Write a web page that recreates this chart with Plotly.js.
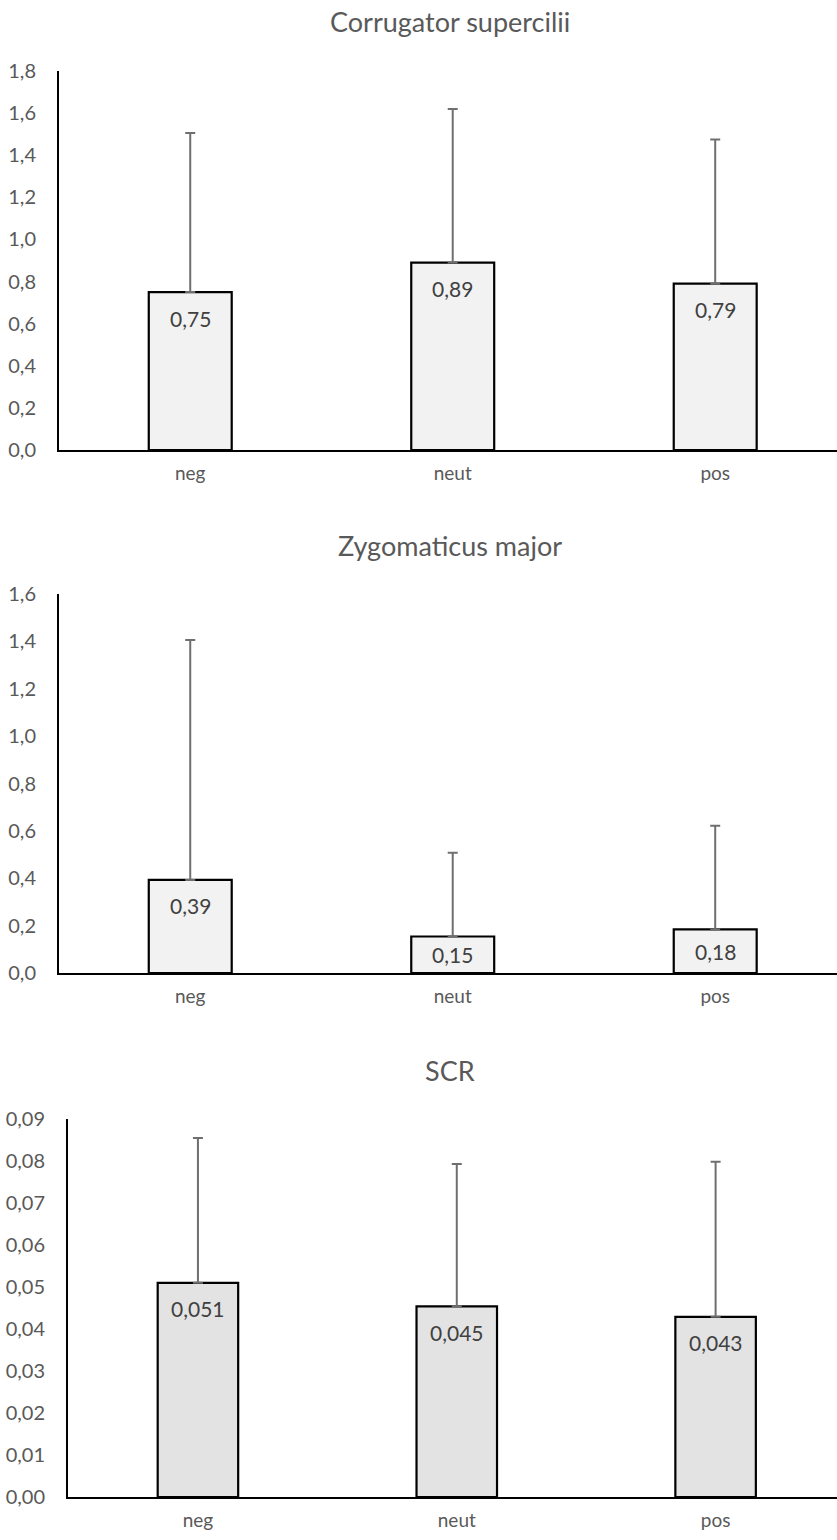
<!DOCTYPE html>
<html>
<head>
<meta charset="utf-8">
<script src="https://cdn.plot.ly/plotly-3.0.1.min.js"></script>
<style>
  html, body { margin: 0; padding: 0; background: #ffffff; }
  #chart { width: 837px; height: 1540px; }
</style>
</head>
<body>
<div id="chart"></div>
<script>
// ---- data ----
const categories = ['neg', 'neut', 'pos'];

const corrTitle = 'Corrugator supercilii';
const corrValues = [0.75, 0.89, 0.79];
const corrErrors = [0.755, 0.73, 0.685];

const zygoTitle = 'Zygomaticus major';
const zygoValues = [0.393, 0.154, 0.184];
const zygoErrors = [1.013, 0.354, 0.438];

const scrTitle = 'SCR';
const scrValues = [0.051, 0.0454, 0.0429];
const scrErrors = [0.0345, 0.0339, 0.0369];

// ---- layout constants ----
const W = 837, H = 1540;
const fontFam = 'Lato, "Open Sans", sans-serif';
const tickColor = '#595959';
const labelColor = '#404040';

const panels = [
  { title: corrTitle, values: corrValues, errors: corrErrors, fill: '#f2f2f2',
    top: 71, bottom: 450, left: 59, yMax: 1.8, dtick: 0.2, fmt: '.1f', dec: 2,
    xr: [-0.5, 2.464], barW: 0.316, titleY: 22 },
  { title: zygoTitle, values: zygoValues, errors: zygoErrors, fill: '#f2f2f2',
    top: 594, bottom: 973, left: 59, yMax: 1.6, dtick: 0.2, fmt: '.1f', dec: 2,
    xr: [-0.5, 2.464], barW: 0.316, titleY: 545 },
  { title: scrTitle, values: scrValues, errors: scrErrors, fill: '#e3e3e3',
    top: 1119, bottom: 1497, left: 68, yMax: 0.09, dtick: 0.01, fmt: '.2f', dec: 3,
    xr: [-0.502, 2.469], barW: 0.311, titleY: 1070 }
];

const traces = [];
const layout = {
  width: W, height: H,
  margin: { l: 0, r: 0, t: 0, b: 0 },
  paper_bgcolor: '#ffffff', plot_bgcolor: '#ffffff',
  showlegend: false,
  separators: ',.',
  font: { family: fontFam, color: tickColor },
  annotations: []
};

panels.forEach((p, i) => {
  const n = i === 0 ? '' : String(i + 1);
  const xa = 'x' + n, ya = 'y' + n;
  traces.push({
    type: 'bar',
    x: categories,
    y: p.values,
    xaxis: xa, yaxis: ya,
    width: p.barW,
    marker: { color: p.fill, line: { color: '#000000', width: 2.2 } },
    error_y: { type: 'data', symmetric: false, array: p.errors,
               arrayminus: p.values.map(() => 0),
               color: '#6f6f6f', thickness: 2, width: 5 },
    hoverinfo: 'skip'
  });
  layout['xaxis' + n] = {
    domain: [p.left / W, 1],
    anchor: ya,
    type: 'category',
    range: p.xr,
    showline: true, linecolor: '#000000', linewidth: 2,
    showgrid: false, zeroline: false,
    ticks: '', ticklabelstandoff: 5,
    tickfont: { family: fontFam, size: 19, color: tickColor },
    fixedrange: true
  };
  layout['yaxis' + n] = {
    domain: [1 - p.bottom / H, 1 - p.top / H],
    anchor: xa,
    range: [0, p.yMax],
    dtick: p.dtick, tick0: 0,
    tickformat: p.fmt,
    showline: true, linecolor: '#000000', linewidth: 2,
    showgrid: false, zeroline: false,
    ticks: '', ticklabelstandoff: 17,
    tickfont: { family: fontFam, size: 20, color: tickColor },
    fixedrange: true
  };
  // panel title
  layout.annotations.push({
    text: p.title, xref: 'paper', yref: 'paper',
    x: 449.5 / W, y: 1 - p.titleY / H, xanchor: 'center', yanchor: 'middle',
    showarrow: false,
    font: { family: fontFam, size: 27, color: tickColor }
  });
  // data labels
  const pxPerUnit = (p.bottom - p.top) / p.yMax;
  p.values.forEach((v, k) => {
    const h = v * pxPerUnit;
    layout.annotations.push({
      text: v.toFixed(p.dec).replace('.', ','),
      xref: xa, yref: ya, x: categories[k], y: v,
      yshift: -Math.min(26, h / 2), yanchor: 'middle', xanchor: 'center',
      showarrow: false,
      font: { family: fontFam, size: 21, color: labelColor }
    });
  });
});

Plotly.newPlot('chart', traces, layout, { staticPlot: true, displayModeBar: false });
</script>
</body>
</html>
